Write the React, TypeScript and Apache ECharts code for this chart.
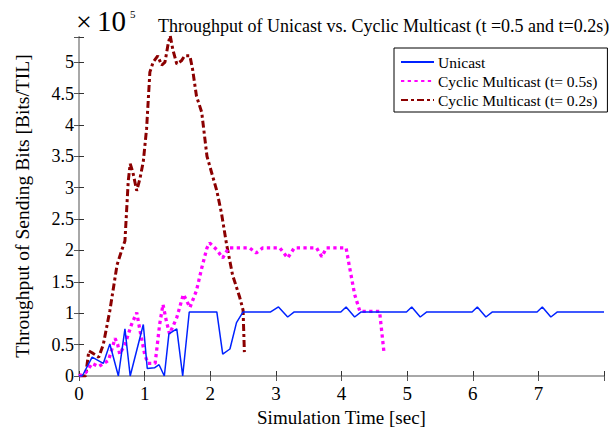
import React, { useEffect, useRef } from "react";
import * as echarts from "echarts";

const FONT = "Liberation Serif";

const seriesNames = ["Unicast", "Cyclic Multicast (t= 0.5s)", "Cyclic Multicast (t= 0.2s)"];

const xTicks = [0, 1, 2, 3, 4, 5, 6, 7];

// Unicast (values in units of 1e5 bits/TIL)
const unicastTime = [0, 0.05, 0.2, 0.37, 0.47, 0.6, 0.7, 0.78, 0.98, 1.04, 1.15, 1.22, 1.3, 1.37, 1.49, 1.58, 1.68, 2.1, 2.19, 2.3, 2.4, 2.5, 2.92, 3.04, 3.18, 3.28, 3.99, 4.07, 4.2, 4.3, 4.99, 5.07, 5.2, 5.3, 5.99, 6.07, 6.2, 6.3, 6.98, 7.06, 7.19, 7.29, 8.0];
const unicastValues = [0, 0, 0.3, 0.2, 0.51, 0, 0.75, 0, 0.82, 0.12, 0.13, 0.18, 0, 0.67, 0.75, 0, 1.02, 1.02, 0.35, 0.43, 0.85, 1.02, 1.02, 1.1, 0.94, 1.02, 1.02, 1.1, 0.94, 1.02, 1.02, 1.1, 0.94, 1.02, 1.02, 1.1, 0.94, 1.02, 1.02, 1.1, 0.94, 1.02, 1.02];

// Cyclic Multicast t = 0.5 s
const multi05Time = [0, 0.1, 0.2, 0.3, 0.45, 0.55, 0.59, 0.62, 0.7, 0.8, 0.88, 0.93, 1.0, 1.05, 1.16, 1.23, 1.28, 1.33, 1.38, 1.49, 1.59, 1.64, 1.69, 1.79, 1.87, 1.95, 1.99, 2.1, 2.19, 2.28, 2.6, 2.7, 2.8, 3.06, 3.18, 3.28, 3.62, 3.7, 3.77, 4.07, 4.12, 4.2, 4.28, 4.58, 4.65];
const multi05Values = [0, 0.05, 0.2, 0.15, 0.25, 0.6, 0.5, 0.35, 0.5, 0.82, 1.01, 0.72, 0.35, 0.2, 0.2, 0.83, 1.14, 0.88, 0.67, 0.93, 1.3, 1.2, 1.09, 1.36, 1.72, 2.04, 2.12, 2.01, 1.88, 2.04, 2.04, 1.96, 2.04, 2.04, 1.88, 2.04, 2.04, 1.9, 2.04, 2.04, 1.75, 1.3, 1.03, 1.03, 0.35];

// Cyclic Multicast t = 0.2 s
const multi02Time = [0, 0.1, 0.15, 0.2, 0.3, 0.37, 0.47, 0.58, 0.65, 0.7, 0.75, 0.78, 0.82, 0.88, 0.93, 0.98, 1.03, 1.08, 1.13, 1.2, 1.26, 1.31, 1.36, 1.39, 1.43, 1.49, 1.56, 1.61, 1.69, 1.73, 1.79, 1.87, 1.95, 2.1, 2.17, 2.25, 2.34, 2.45, 2.5, 2.52];
const multi02Values = [0, 0, 0.4, 0.37, 0.3, 0.5, 1.04, 1.77, 2.0, 2.15, 3.1, 3.38, 3.25, 2.95, 3.15, 3.42, 3.94, 4.84, 5.0, 5.1, 4.95, 5.0, 5.3, 5.42, 5.2, 4.97, 5.02, 5.1, 5.1, 4.89, 4.46, 4.2, 3.5, 2.95, 2.6, 2.09, 1.61, 1.25, 1.05, 0.38];

const zip = (t: number[], v: number[]) => t.map((x, i) => [x, v[i]]);

export default function App() {
  const ref = useRef<HTMLDivElement>(null);
  useEffect(() => {
    document.body.style.margin = "0";
    const chart = echarts.init(ref.current!, null, { renderer: "svg" });
    const baseX = {
      type: "value" as const,
      min: 0,
      max: 8,
      interval: 1,
      splitLine: { show: false },
    };
    const baseY = {
      type: "value" as const,
      min: 0,
      max: 5.4,
      interval: 0.5,
      splitLine: { show: false },
    };
    chart.setOption({
      animation: false,
      backgroundColor: "#ffffff",
      textStyle: { fontFamily: FONT },
      title: {
        text: "Throughput of Unicast vs. Cyclic Multicast (t =0.5 and t=0.2s)",
        left: 153,
        top: 12,
        textStyle: { fontFamily: FONT, fontSize: 18, fontWeight: "normal", color: "#000" },
      },
      grid: { left: 79, right: 11, top: 37, bottom: 52 },
      legend: {
        data: seriesNames,
        orient: "vertical",
        left: 394,
        top: 48,
        itemWidth: 33,
        itemHeight: 15,
        itemGap: 3,
        padding: [6, 10, 4, 6],
        borderColor: "#000",
        borderWidth: 1,
        backgroundColor: "#fff",
        itemStyle: { opacity: 0 },
        textStyle: { fontFamily: FONT, fontSize: 15.5, color: "#000", padding: [0, 0, 0, -1] },
      },
      xAxis: [
        {
          ...baseX,
          position: "bottom",
          name: "Simulation Time [sec]",
          nameLocation: "middle",
          nameGap: 32,
          nameTextStyle: { fontFamily: FONT, fontSize: 19, color: "#000" },
          axisLine: { show: true, lineStyle: { color: "#333", width: 1 } },
          axisTick: { show: true, inside: true, length: 5, lineStyle: { color: "#333" } },
          axisLabel: {
            fontFamily: FONT,
            fontSize: 19,
            color: "#000",
            margin: 8,
            formatter: (v: number) => (xTicks.includes(v) ? String(v) : ""),
          },
        },
        {
          ...baseX,
          position: "top",
          axisLine: { show: true, lineStyle: { color: "#a8a8a8", width: 2 } },
          axisTick: { show: true, inside: true, length: 5, lineStyle: { color: "#555" } },
          axisLabel: { show: false },
        },
      ],
      yAxis: [
        {
          ...baseY,
          position: "left",
          axisLine: { show: true, lineStyle: { color: "#333", width: 1 } },
          axisTick: { show: true, inside: true, length: 5, lineStyle: { color: "#333" } },
          axisLabel: {
            fontFamily: FONT,
            fontSize: 18,
            color: "#000",
            margin: 5,
            formatter: (v: number) =>
              Math.abs(v * 2 - Math.round(v * 2)) < 1e-6 && v <= 5 ? String(v) : "",
          },
        },
        {
          ...baseY,
          position: "right",
          axisLine: { show: true, lineStyle: { color: "#a8a8a8", width: 2 } },
          axisTick: { show: true, inside: true, length: 5, lineStyle: { color: "#555" } },
          axisLabel: { show: false },
        },
      ],
      graphic: [
        {
          type: "text",
          left: 76,
          top: 7,
          style: { text: "×", fontFamily: FONT, fontSize: 28, fill: "#000" },
        },
        {
          type: "text",
          left: 97,
          top: 6,
          style: { text: "10", fontFamily: FONT, fontSize: 29, fill: "#000" },
        },
        {
          type: "text",
          left: 130,
          top: 8,
          style: { text: "5", fontFamily: FONT, fontSize: 11, fill: "#000" },
        },
        {
          type: "text",
          x: 22,
          y: 206,
          rotation: Math.PI / 2,
          style: {
            text: "Throughput of Sending Bits [Bits/TIL]",
            fontFamily: FONT,
            fontSize: 19.5,
            fill: "#000",
            align: "center",
            verticalAlign: "middle",
          },
        },
      ],
      series: [
        {
          name: seriesNames[0],
          type: "line",
          data: zip(unicastTime, unicastValues),
          showSymbol: false,
          symbol: "none",
          lineStyle: { color: "#0022ff", width: 1.5 },
          itemStyle: { color: "#0022ff" },
          z: 4,
        },
        {
          name: seriesNames[1],
          type: "line",
          data: zip(multi05Time, multi05Values),
          showSymbol: false,
          symbol: "none",
          lineStyle: { color: "#ff00ff", width: 3.3, type: [3.3, 3.4], cap: "butt" },
          itemStyle: { color: "#ff00ff" },
          z: 3,
        },
        {
          name: seriesNames[2],
          type: "line",
          data: zip(multi02Time, multi02Values),
          showSymbol: false,
          symbol: "none",
          lineStyle: { color: "#8b0000", width: 3, type: [7, 3, 3, 3], cap: "butt" },
          itemStyle: { color: "#8b0000" },
          z: 2,
        },
      ],
    });
    return () => chart.dispose();
  }, []);
  return <div ref={ref} style={{ width: 615, height: 432 }} />;
}
